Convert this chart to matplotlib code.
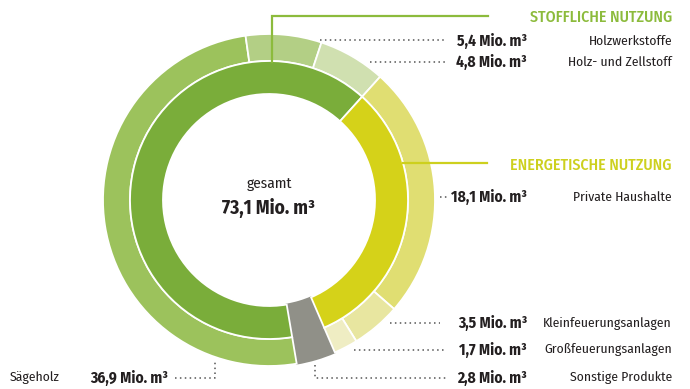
import matplotlib.pyplot as plt

# Holzverwendung in Deutschland, Mio. m³
usage_labels = ['Sägeholz', 'Holzwerkstoffe', 'Holz- und Zellstoff',
                'Private Haushalte', 'Kleinfeuerungsanlagen',
                'Großfeuerungsanlagen', 'Sonstige Produkte']
usage_values = [36.9, 5.4, 4.8, 18.1, 3.5, 1.7, 2.8]
group_labels = ['STOFFLICHE NUTZUNG', 'ENERGETISCHE NUTZUNG', 'Sonstige Produkte']
group_values = [47.1, 23.3, 2.8]
total_label = 73.1

outer_colors = ['#9cc25c', '#b3cf85', '#d0e0b0', '#e0de72', '#e8e6a0', '#efedc3', '#909088']
inner_colors = ['#7aad3a', '#d5d219', '#909088']
green_head = '#8cbb3c'
yellow_head = '#cdd01e'
dark = '#231f20'

plt.rcParams['font.family'] = ['Fira Sans Condensed', 'Roboto Condensed',
                               'Archivo Narrow', 'Saira SemiCondensed', 'DejaVu Sans']

W, H = 690, 389
fig = plt.figure(figsize=(W / 100, H / 100), dpi=100)
ax = fig.add_axes([0, 0, 1, 1])
cx, cy = 269, H - 200

outer, _ = ax.pie(usage_values, radius=166, center=(cx, cy), startangle=279.6,
                  counterclock=False, colors=outer_colors,
                  wedgeprops=dict(width=27, edgecolor='white', linewidth=1.3))
inner, _ = ax.pie(group_values, radius=139, center=(cx, cy), startangle=279.6,
                  counterclock=False, colors=inner_colors,
                  wedgeprops=dict(width=33, edgecolor='white', linewidth=1.3))

# grey wedge runs through both rings without the white seam
for w in (outer[-1], inner[-1]):
    w.set_edgecolor(w.get_facecolor())
    w.set_zorder(0.9)
inner[-1].set_radius(141)
inner[-1].set_width(35)

ax.set_xlim(0, W)
ax.set_ylim(0, H)
ax.set_aspect('auto')
ax.axis('off')


def txt(x, y, s, **kw):
    kw.setdefault('color', dark)
    kw.setdefault('fontsize', 9.8)
    ax.text(x, H - y, s, va='center', **kw)


def line(xs, ys, **kw):
    ax.plot(xs, [H - y for y in ys], **kw)


def fmt(v):
    return f'{v:.1f}'.replace('.', ',') + ' Mio. m³'


dots = dict(color='#555555', lw=1.1, ls=(0, (1, 2.2)))

# centre
txt(cx, 184, 'gesamt', ha='center', fontsize=11)
txt(cx, 208, fmt(total_label), ha='center', fontsize=13.9, fontweight='bold')

# group headers with their leader lines
line([272, 272, 488], [62, 16, 16], color=green_head, lw=1.6, solid_joinstyle='miter')
txt(672, 17, group_labels[0], ha='right', color=green_head, fontsize=11.4, fontweight='medium')
line([403, 487], [163, 163], color=yellow_head, lw=1.6)
txt(672, 165, group_labels[1], ha='right', color=yellow_head, fontsize=11.4, fontweight='medium')

# right-hand rows: label index, row y, dotted leader path
rows = [
    (1, 41, [320, 447], [40, 40]),
    (2, 62, [370, 447], [62, 62]),
    (3, 197, [440, 447], [197, 197]),
    (4, 323, [390, 440], [323, 323]),
    (5, 350, [354, 446], [350, 350]),
    (6, 378, [315, 315, 446], [365, 378, 378]),
]
for i, y, xs, ys in rows:
    line(xs, ys, **dots)
    txt(527, y, fmt(usage_values[i]), ha='right', fontsize=11.2, fontweight='bold')
    txt(672, y, usage_labels[i], ha='right')

# Sägeholz at the bottom left
line([175, 215, 215], [378, 378, 362], **dots)
txt(168, 378, fmt(usage_values[0]), ha='right', fontsize=11.2, fontweight='bold')
txt(10, 378, usage_labels[0], ha='left')

fig.savefig('out.png', dpi=100)
